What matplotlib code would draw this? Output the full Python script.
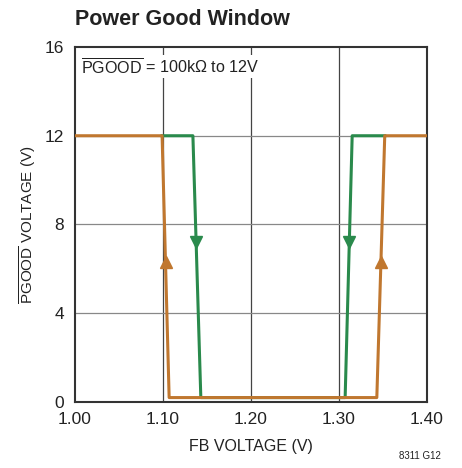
import numpy as np
import matplotlib
matplotlib.use('Agg')
import matplotlib.pyplot as plt
from matplotlib import font_manager

# font: narrow sans if we have it
names = set(f.name for f in font_manager.fontManager.ttflist)
fam = 'Liberation Sans Narrow' if 'Liberation Sans Narrow' in names else 'Liberation Sans'
plt.rcParams['font.family'] = [fam, 'DejaVu Sans']
plt.rcParams['mathtext.fontset'] = 'custom'
plt.rcParams['mathtext.rm'] = fam
plt.rcParams['mathtext.it'] = fam

# rising FB (orange) and falling FB (green) traces
orange_x = [1.00, 1.099, 1.107, 1.343, 1.352, 1.40]
orange_y = [12.0, 12.0, 0.2, 0.2, 12.0, 12.0]
green_x = [1.099, 1.134, 1.143, 1.307, 1.315, 1.352]
green_y = [12.0, 12.0, 0.2, 0.2, 12.0, 12.0]

# arrow heights on the edges
up_arrow_v = 6.3
down_arrow_v = 7.2

xticks = [1.00, 1.10, 1.20, 1.30, 1.40]
yticks = [0, 4, 8, 12, 16]

c_or = '#c0772f'
c_gr = '#2a8a4c'
txt = '#222222'

fig = plt.figure(figsize=(4.62, 4.68), dpi=100)
ax = fig.add_axes([0.1623, 0.1410, 0.7619, 0.7586])

ax.plot(green_x, green_y, color=c_gr, lw=2.2, zorder=3)
ax.plot(orange_x, orange_y, color=c_or, lw=2.2, zorder=4)

# arrows: place on the sloped edges by interpolating the traces
ox1 = np.interp(up_arrow_v, orange_y[1:3][::-1], orange_x[1:3][::-1])
ox2 = np.interp(up_arrow_v, orange_y[3:5], orange_x[3:5])
gx1 = np.interp(down_arrow_v, green_y[1:3][::-1], green_x[1:3][::-1])
gx2 = np.interp(down_arrow_v, green_y[3:5], green_x[3:5])
ax.plot([ox1, ox2], [up_arrow_v, up_arrow_v], ls='none', marker='^', ms=8.5, color=c_or, zorder=5)
ax.plot([gx1, gx2], [down_arrow_v, down_arrow_v], ls='none', marker='v', ms=8.5, color=c_gr, zorder=5)

ax.set_xlim(1.00, 1.40)
ax.set_ylim(0, 16)
ax.set_xticks(xticks)
ax.set_xticklabels(['%.2f' % v for v in xticks])
ax.set_yticks(yticks)
ax.tick_params(length=0, labelsize=12.5, colors=txt)
ax.tick_params(axis='x', pad=7)
ax.tick_params(axis='y', pad=8)
for v in xticks[1:-1]:
    ax.axvline(v, color='#444444', lw=0.9, zorder=1)
for v in yticks[1:-1]:
    ax.axhline(v, color='#888888', lw=0.9, zorder=1)
for s in ax.spines.values():
    s.set_color('#333333')
    s.set_linewidth(1.5)

ax.set_xlabel('FB VOLTAGE (V)', fontsize=11.5, color=txt, labelpad=9)
ax.set_ylabel(r'$\overline{\mathrm{PGOOD}}$ VOLTAGE (V)', fontsize=11, color=txt)
ax.yaxis.set_label_coords(-0.105, 0.5)

ax.text(0.018, 0.972, r'$\overline{\mathrm{PGOOD}}$ = 100k$\Omega$ to 12V', transform=ax.transAxes,
        fontsize=11.6, color=txt, va='top', ha='left',
        bbox=dict(facecolor='white', edgecolor='none', pad=1))

fig.text(0.1623, 0.958, 'Power Good Window', fontsize=15.5, fontweight='bold', color=txt, va='center')
fig.text(0.955, 0.02, '8311 G12', fontsize=7, color=txt, ha='right')

fig.savefig('out.png', dpi=100)
